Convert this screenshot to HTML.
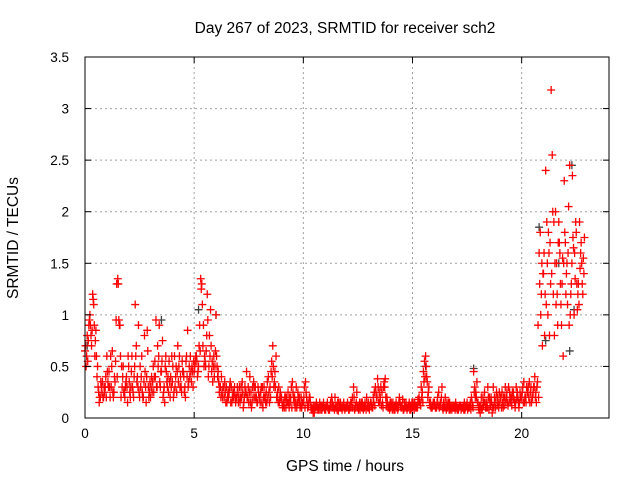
<!DOCTYPE html>
<html><head><meta charset="utf-8"><style>
html,body{margin:0;padding:0;background:#fff;}
svg{display:block;font-family:"Liberation Sans",sans-serif;}
</style></head><body>
<svg id="chart" width="640" height="480">
<text x="345" y="33" font-size="15.5" text-anchor="middle" fill="#000">Day 267 of 2023, SRMTID for receiver sch2</text>
<text x="345" y="471" font-size="15.5" text-anchor="middle">GPS time / hours</text>
<text transform="translate(18,238) rotate(-90)" font-size="15.5" text-anchor="middle">SRMTID / TECUs</text>
<g id="grid"></g><g id="marks"></g><g id="axes"></g>
</svg>
<script>
const xTicks=[0,5,10,15,20];
const yTicks=[0,0.5,1,1.5,2,2.5,3,3.5];
const yTickLabels=["0","0.5","1","1.5","2","2.5","3","3.5"];
const redA=[0.65,0.8,0.95,0.7,1.1,0.85,0.3,0.2,0.35,0.25,
0.6,0.45,0.3,0.2,0.55,1.35,0.9,0.3,0.25,0.4,
0.5,0.3,0.25,1.1,0.4,0.2,0.6,0.35,0.15,0.3,
0.2,0.35,0.55,0.3,0.9,0.45,0.25,0.6,0.4,0.2,
0.35,0.6,0.25,0.5,0.3,0.45,0.2,0.85,0.4,0.5,
0.45,0.6,0.5,1.35,0.7,0.55,1.2,0.8,0.45,0.6,
1.0,0.45,0.3,0.2,0.35,0.15,0.25,0.3,0.2,0.15,
0.25,0.15,0.35,0.2,0.45,0.15,0.25,0.2,0.3,0.15,
0.2,0.15,0.3,0.25,0.4,0.2,0.7,0.45,0.2,0.15,
0.2,0.15,0.1,0.25,0.15,0.35,0.2,0.1,0.15,0.2,
0.15,0.35,0.1,0.2,0.1,0.05,0.15,0.1,0.08,0.12,
0.1,0.15,0.08,0.2,0.1,0.12,0.07,0.15,0.1,0.08,
0.1,0.08,0.15,0.3,0.1,0.12,0.08,0.15,0.1,0.2,
0.1,0.15,0.2,0.3,0.38,0.15,0.25,0.35,0.12,0.1,
0.1,0.15,0.08,0.12,0.2,0.1,0.08,0.15,0.1,0.12,
0.1,0.15,0.12,0.2,0.3,0.45,0.6,0.2,0.12,0.1,
0.15,0.1,0.25,0.12,0.08,0.2,0.1,0.15,0.08,0.1,
0.1,0.08,0.12,0.1,0.08,0.15,0.1,0.2,0.45,0.25,
0.15,0.05,0.1,0.25,0.15,0.08,0.2,0.3,0.1,0.2,
0.15,0.25,0.12,0.2,0.3,0.15,0.2,0.1,0.25,0.15,
0.2,0.35,0.15,0.3,0.25,0.2,0.4,0.3,1.6,1.2,
1.4,2.4,1.0,1.7,2.55,0.8,1.5,1.9,1.1,0.6,
1.7,1.1,2.45,1.5,1.0,1.8,1.3,1.6,1.2];
const redB=[0.5,0.75,0.9,1.2,0.6,0.4,0.15,0.3,0.2,0.4,
0.35,0.2,0.65,0.4,1.3,0.95,0.2,0.5,0.3,0.15,
0.25,0.6,0.4,0.7,0.9,0.3,0.2,0.45,0.85,0.25,
0.4,0.25,0.95,0.5,0.3,0.75,0.15,0.35,0.55,0.3,
0.2,0.4,0.7,0.3,0.55,0.25,0.6,0.35,0.45,0.3,
0.55,0.4,0.9,1.3,0.5,0.65,0.4,1.05,0.35,0.5,
0.5,0.25,0.4,0.3,0.15,0.25,0.35,0.2,0.3,0.2,
0.2,0.3,0.1,0.25,0.2,0.4,0.15,0.3,0.2,0.25,
0.25,0.1,0.2,0.35,0.15,0.55,0.3,0.6,0.15,0.25,
0.1,0.2,0.15,0.1,0.3,0.2,0.15,0.25,0.1,0.15,
0.3,0.2,0.15,0.1,0.05,0.12,0.1,0.15,0.08,0.1,
0.12,0.08,0.15,0.1,0.2,0.08,0.12,0.1,0.15,0.1,
0.12,0.1,0.2,0.08,0.25,0.1,0.15,0.08,0.12,0.1,
0.12,0.1,0.25,0.2,0.15,0.3,0.1,0.38,0.15,0.08,
0.12,0.08,0.15,0.1,0.12,0.18,0.1,0.08,0.15,0.1,
0.12,0.1,0.18,0.15,0.25,0.55,0.4,0.3,0.1,0.15,
0.1,0.2,0.12,0.3,0.1,0.08,0.15,0.1,0.12,0.08,
0.08,0.12,0.1,0.08,0.12,0.1,0.15,0.12,0.3,0.35,
0.08,0.2,0.12,0.1,0.3,0.15,0.05,0.2,0.25,0.1,
0.2,0.1,0.3,0.15,0.25,0.12,0.18,0.3,0.15,0.2,
0.3,0.2,0.25,0.35,0.15,0.3,0.25,0.9,1.8,0.7,
0.8,1.9,1.6,3.18,1.2,2.0,0.9,1.6,1.3,2.3,
1.4,2.05,1.2,1.75,1.35,1.05,1.9,1.5,1.4];
const redC=[0.7,0.55,1.0,0.85,0.9,0.6,0.25,0.35,0.2,0.3,
0.45,0.3,0.5,0.25,0.95,1.3,0.6,0.4,0.2,0.3,
0.35,0.45,0.2,0.6,0.3,0.5,0.25,0.8,0.4,0.2,
0.3,0.5,0.4,0.7,0.35,0.55,0.3,0.45,0.25,0.4,
0.5,0.3,0.45,0.6,0.25,0.4,0.55,0.3,0.6,0.45,
0.5,0.55,0.7,1.25,0.9,0.5,0.95,0.6,0.55,0.4,
0.6,0.35,0.2,0.3,0.25,0.2,0.3,0.15,0.25,0.2,
0.15,0.2,0.25,0.3,0.2,0.25,0.1,0.35,0.2,0.3,
0.15,0.3,0.2,0.15,0.25,0.45,0.5,0.3,0.25,0.2,
0.15,0.1,0.2,0.15,0.2,0.25,0.1,0.15,0.2,0.1,
0.2,0.25,0.12,0.15,0.08,0.1,0.12,0.08,0.12,0.15,
0.08,0.1,0.12,0.15,0.08,0.1,0.15,0.1,0.12,0.1,
0.15,0.12,0.1,0.2,0.15,0.08,0.12,0.1,0.15,0.12,
0.08,0.12,0.15,0.25,0.3,0.2,0.15,0.3,0.2,0.12,
0.15,0.1,0.12,0.08,0.15,0.12,0.15,0.1,0.12,0.08,
0.15,0.12,0.1,0.15,0.2,0.35,0.5,0.25,0.15,0.12,
0.12,0.15,0.1,0.2,0.15,0.1,0.12,0.08,0.1,0.12,
0.12,0.1,0.08,0.12,0.1,0.08,0.12,0.15,0.25,0.2,
0.1,0.12,0.2,0.15,0.1,0.2,0.15,0.1,0.2,0.15,
0.2,0.15,0.2,0.25,0.15,0.2,0.25,0.15,0.2,0.25,
0.25,0.15,0.3,0.2,0.3,0.25,0.2,0.35,1.3,1.5,
1.6,1.1,1.8,1.3,2.0,1.5,1.2,1.7,0.9,1.5,
1.2,1.6,1.0,2.35,1.6,1.3,1.1,1.7,1.55];
const redD=[0.6,0.9,0.8,1.15,0.75,0.5,0.2,0.25,0.3,0.2,
0.3,0.6,0.25,0.35,0.4,0.9,0.5,0.25,0.35,0.6,
0.2,0.3,0.5,0.35,0.25,0.4,0.2,0.3,0.65,0.35,
0.25,0.4,0.3,0.6,0.45,0.2,0.5,0.3,0.35,0.6,
0.25,0.5,0.35,0.4,0.45,0.3,0.4,0.5,0.35,0.55,
0.6,0.45,0.65,1.1,0.6,0.8,0.5,0.7,0.5,0.65,
0.4,0.3,0.25,0.2,0.3,0.2,0.15,0.25,0.2,0.3,
0.3,0.2,0.15,0.25,0.3,0.15,0.3,0.2,0.15,0.2,
0.3,0.2,0.15,0.2,0.3,0.4,0.35,0.2,0.3,0.2,
0.12,0.2,0.15,0.2,0.1,0.15,0.3,0.2,0.12,0.15,
0.1,0.15,0.2,0.08,0.12,0.1,0.08,0.12,0.1,0.08,
0.12,0.08,0.1,0.12,0.1,0.15,0.1,0.08,0.1,0.12,
0.08,0.15,0.1,0.12,0.1,0.15,0.1,0.12,0.08,0.15,
0.15,0.1,0.12,0.2,0.25,0.12,0.3,0.2,0.1,0.15,
0.08,0.12,0.1,0.15,0.1,0.08,0.12,0.1,0.08,0.15,
0.08,0.1,0.15,0.12,0.15,0.4,0.35,0.15,0.1,0.12,
0.1,0.12,0.15,0.1,0.12,0.15,0.08,0.12,0.1,0.15,
0.1,0.12,0.1,0.15,0.12,0.1,0.08,0.1,0.2,0.15,
0.12,0.08,0.15,0.1,0.2,0.12,0.1,0.15,0.12,0.25,
0.1,0.2,0.15,0.12,0.2,0.25,0.15,0.2,0.1,0.2,
0.15,0.2,0.25,0.15,0.2,0.3,0.15,0.2,1.0,1.4,
1.2,1.5,0.8,1.4,1.9,1.1,1.7,1.3,1.55,1.8,
1.5,0.9,1.3,1.65,1.9,1.2,1.45,1.3,1.75];
const blackT=[0.1,3.5,5.2,6.0,15.6,17.8,20.8,21.7,22.3,22.4,21.1,22.2];
const blackV=[0.7,0.95,1.05,1.0,0.5,0.48,1.85,1.5,2.45,1.05,0.75,0.65];
const step=0.1;
const L=85,R=609,T=57,B=418,XMAX=24,YMAX=3.5;
const sx=v=>L+(R-L)*v/XMAX, sy=v=>B-(B-T)*v/YMAX;
const NS="http://www.w3.org/2000/svg";
function mk(tag,attrs,parent){const e=document.createElementNS(NS,tag);for(const k in attrs)e.setAttribute(k,attrs[k]);parent.appendChild(e);return e;}
const grid=document.getElementById('grid'),axes=document.getElementById('axes'),marks=document.getElementById('marks');
xTicks.forEach(t=>{const x=sx(t);
 if(t>0){const g=mk('line',{x1:x,x2:x,y1:T,y2:B,stroke:'#a0a0a0','stroke-dasharray':'2,3'},grid);
 
 }
 mk('line',{x1:x,x2:x,y1:B,y2:B-6,stroke:'#000'},axes);
 mk('line',{x1:x,x2:x,y1:T,y2:T+6,stroke:'#000'},axes);
 const tx=mk('text',{x:x,y:B+20,'font-size':13.5,'text-anchor':'middle'},axes);tx.textContent=t;
 
 });
yTicks.forEach((t,i)=>{const y=sy(t);
 if(t>0&&t<YMAX){const g=mk('line',{x1:L,x2:R,y1:y,y2:y,stroke:'#a0a0a0','stroke-dasharray':'2,3'},grid);
 
 }
 mk('line',{x1:L,x2:L+6,y1:y,y2:y,stroke:'#000'},axes);
 mk('line',{x1:R,x2:R-6,y1:y,y2:y,stroke:'#000'},axes);
 const tx=mk('text',{x:L-16,y:y+5,'font-size':13.5,'text-anchor':'end'},axes);tx.textContent=yTickLabels[i];
 
 });
const box=mk('rect',{x:L,y:T,width:R-L,height:B-T,fill:'none',stroke:'#000'},axes);


function plus(t,v,col,name){const x=sx(t),y=sy(v);
 const p=mk('path',{d:`M${x-4},${y}h8M${x},${y-4}v8`,stroke:col,'stroke-width':1.3,fill:'none'},marks);
 
 }
blackT.forEach((t,i)=>plus(t,blackV[i],'#404040','black-point'));
redA.forEach((v,i)=>plus(i*step,v,'#ff0000','red-point'));
redC.forEach((v,i)=>plus(i*step+step*0.25,v,'#ff0000','red-point'));
redB.forEach((v,i)=>plus(i*step+step*0.5,v,'#ff0000','red-point'));
redD.forEach((v,i)=>plus(i*step+step*0.75,v,'#ff0000','red-point'));
</script>
</body></html>
